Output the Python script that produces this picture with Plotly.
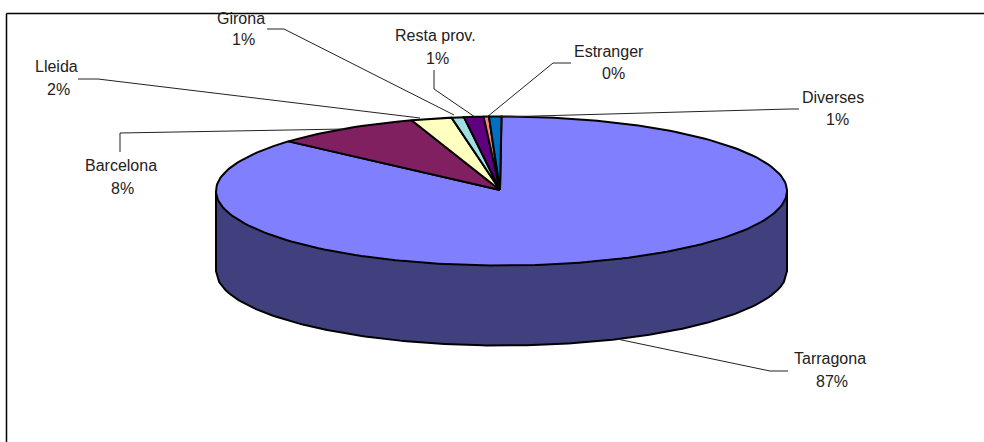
import math
import plotly.graph_objects as go

categories = ["Tarragona", "Barcelona", "Lleida", "Girona", "Resta prov.", "Estranger", "Diverses"]
values = [86.6, 8.3, 2.3, 0.7, 1.1, 0.3, 0.7]
percent_labels = ["87%", "8%", "2%", "1%", "1%", "0%", "1%"]
slice_colors = ["#8080ff", "#802060", "#ffffc0", "#a0e0e0", "#600080", "#ff8080", "#0070c0"]
side_color = "#40407f"

CX, CY, RX, RY, DEPTH = 501.5, 191, 285.5, 74.5, 80
APEX = (500, 190)

name_pos = [(830, 358), (121, 165), (56, 66), (241, 18), (435, 35), (609, 51), (833, 97)]
pct_pos = [(832, 381), (122, 188), (58, 89), (243, 39), (437, 58), (613, 73), (837, 119)]
leaders = [
    [(617, 339), (770, 371), (788, 371)],
    [(120, 152), (120, 133), (345, 129)],
    [(78, 79), (98, 79), (420, 118)],
    [(267, 29), (284, 29), (454, 115)],
    [(434, 70), (434, 89), (475, 117)],
    [(571, 63), (553, 63), (487, 117)],
    [(799, 109), (790, 109), (500, 117)],
]


def pt(frac):
    t = 2 * math.pi * frac
    return CX + RX * math.sin(t), CY - RY * math.cos(t)


fig = go.Figure()
total = sum(values)

# side wall (visible lower half of the disc)
n = 180
xs = [CX - RX + 2 * RX * i / n for i in range(n + 1)]
low = [CY + DEPTH + RY * math.sqrt(max(0, 1 - ((x - CX) / RX) ** 2)) for x in xs]
fig.add_trace(go.Scatter(
    x=[CX - RX] + xs + [CX + RX, CX - RX],
    y=[CY] + low + [CY, CY],
    mode="lines", fill="toself", fillcolor=side_color,
    line=dict(color="black", width=2), hoverinfo="skip", showlegend=False))

# top slices
start = 0.0
for name, v, col in zip(categories, values, slice_colors):
    frac = v / total
    steps = max(2, int(frac * 240))
    pts = [pt(start + frac * i / steps) for i in range(steps + 1)]
    px = [APEX[0]] + [p[0] for p in pts] + [APEX[0]]
    py = [APEX[1]] + [p[1] for p in pts] + [APEX[1]]
    fig.add_trace(go.Scatter(x=px, y=py, mode="lines", fill="toself", fillcolor=col,
                             line=dict(color="black", width=2), name=name,
                             hoverinfo="name", showlegend=False))
    start += frac

# leader lines
for seg in leaders:
    fig.add_trace(go.Scatter(x=[p[0] for p in seg], y=[p[1] for p in seg], mode="lines",
                             line=dict(color="#222222", width=1),
                             hoverinfo="skip", showlegend=False))

font = dict(family="Liberation Sans", size=16, color="#222222")
for name, pct, (nx, ny), (qx, qy) in zip(categories, percent_labels, name_pos, pct_pos):
    fig.add_annotation(x=nx, y=ny, text=name, showarrow=False, font=font,
                       xanchor="center", yanchor="middle")
    fig.add_annotation(x=qx, y=qy, text=pct, showarrow=False, font=font,
                       xanchor="center", yanchor="middle")

# plot-area frame: top and left edges visible
fig.add_shape(type="line", x0=6.5, y0=13.5, x1=984, y1=13.5, line=dict(color="black", width=1.5), layer="below")
fig.add_shape(type="line", x0=6.5, y0=13.5, x1=6.5, y1=442, line=dict(color="black", width=1.5), layer="below")

fig.update_xaxes(range=[0, 984], visible=False)
fig.update_yaxes(range=[442, 0], visible=False)
fig.update_layout(width=984, height=442, margin=dict(l=0, r=0, t=0, b=0),
                  paper_bgcolor="white", plot_bgcolor="white", showlegend=False)
fig.write_html("out.html", config={"displayModeBar": False},
               post_script="document.body.style.margin='0';document.documentElement.style.overflow='hidden';")
